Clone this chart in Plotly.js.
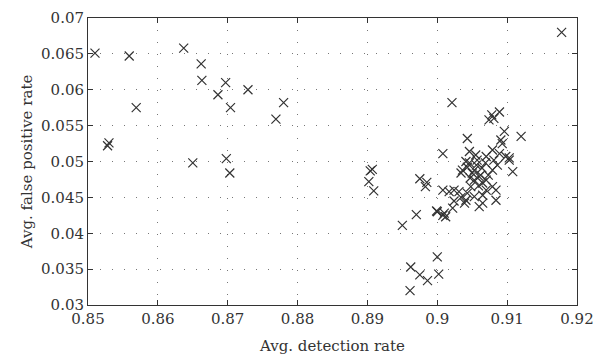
<!DOCTYPE html>
<html>
<head>
<meta charset="utf-8">
<script src="https://cdn.plot.ly/plotly-3.0.1.min.js"></script>
<style>html,body{margin:0;padding:0;background:#fff;}#chart{width:599px;height:362px;}</style>
</head>
<body>
<div id="chart"></div>
<script>
// Avg. detection rate (x) and Avg. false positive rate (y)
const detectionRate = [
  0.8510, 0.8559, 0.8530, 0.8528, 0.8569, 0.8637, 0.8662, 0.8663, 0.8650, 0.8686,
  0.8697, 0.8704, 0.8698, 0.8703, 0.8729, 0.8769, 0.8780,
  0.8907, 0.8904, 0.8902, 0.8909,
  0.8975, 0.8985, 0.8983, 0.8970, 0.8950, 0.8999, 0.9008,
  0.8962, 0.8975, 0.8986, 0.8961, 0.9000, 0.9002,
  0.9046, 0.9055, 0.9041, 0.9036, 0.9060, 0.9048, 0.9070, 0.9084, 0.9089, 0.9079,
  0.9093, 0.9103, 0.9008, 0.9017, 0.9024, 0.9065, 0.9053, 0.9034, 0.9060, 0.9084,
  0.9010, 0.9022, 0.9039, 0.9065, 0.9070, 0.9079, 0.9034, 0.9062, 0.9050, 0.9041,
  0.9053, 0.9079, 0.9031, 0.9046, 0.9070, 0.9043, 0.9096, 0.9091, 0.9120, 0.9098,
  0.9103, 0.9108, 0.9008, 0.9021, 0.9078, 0.9089, 0.9081, 0.9074, 0.9178,
  0.9043, 0.9056, 0.9064, 0.9053, 0.9047, 0.9059, 0.9043, 0.9073, 0.9086, 0.9081,
  0.9069, 0.9057, 0.9024, 0.9065, 0.9012, 0.9000
];
const falsePositiveRate = [
  0.0651, 0.0647, 0.0526, 0.0522, 0.0575, 0.0658, 0.0636, 0.0613, 0.0498, 0.0593,
  0.0610, 0.0575, 0.0504, 0.0484, 0.0600, 0.0559, 0.0582,
  0.0489, 0.0487, 0.0472, 0.0459,
  0.0476, 0.0471, 0.0465, 0.0426, 0.0411, 0.0431, 0.0425,
  0.0353, 0.0342, 0.0334, 0.0320, 0.0367, 0.0343,
  0.0514, 0.0509, 0.0500, 0.0488, 0.0479, 0.0465, 0.0474, 0.0460, 0.0511, 0.0516,
  0.0525, 0.0505, 0.0460, 0.0458, 0.0460, 0.0453, 0.0451, 0.0450, 0.0437, 0.0446,
  0.0428, 0.0435, 0.0442, 0.0470, 0.0460, 0.0465, 0.0484, 0.0481, 0.0484, 0.0446,
  0.0474, 0.0488, 0.0458, 0.0498, 0.0507, 0.0532, 0.0542, 0.0530, 0.0535, 0.0507,
  0.0502, 0.0486, 0.0511, 0.0582, 0.0565, 0.0569, 0.0560, 0.0558, 0.0680,
  0.0492, 0.0495, 0.0491, 0.0488, 0.0477, 0.0466, 0.0456, 0.0481, 0.0495, 0.0502,
  0.0498, 0.0502, 0.0445, 0.0442, 0.0423, 0.0430
];
const xTickVals = [0.85, 0.86, 0.87, 0.88, 0.89, 0.90, 0.91, 0.92];
const xTickText = ["0.85", "0.86", "0.87", "0.88", "0.89", "0.9", "0.91", "0.92"];
const yTickVals = [0.03, 0.035, 0.04, 0.045, 0.05, 0.055, 0.06, 0.065, 0.07];
const yTickText = ["0.03", "0.035", "0.04", "0.045", "0.05", "0.055", "0.06", "0.065", "0.07"];

const fontFamily = "DejaVu Serif, Liberation Serif, serif";
const axisCommon = {
  showline: true, mirror: "ticks", linecolor: "#333", linewidth: 1,
  ticks: "inside", ticklen: 5, tickcolor: "#333", tickwidth: 1,
  showgrid: true, gridcolor: "#777", griddash: "1px,11px", gridwidth: 1,
  zeroline: false, tickfont: {family: fontFamily, size: 15, color: "#333"}
};
const trace = {
  x: detectionRate, y: falsePositiveRate, type: "scatter", mode: "markers",
  marker: {symbol: "x-thin-open", size: 9, color: "#333", line: {color: "#333", width: 1.2}},
  hoverinfo: "none"
};
const layout = {
  width: 599, height: 362,
  margin: {l: 88, r: 22, t: 18, b: 57},
  paper_bgcolor: "#fff", plot_bgcolor: "#fff",
  showlegend: false,
  font: {family: fontFamily, color: "#333"},
  xaxis: Object.assign({}, axisCommon, {
    range: [0.85, 0.92], tickvals: xTickVals, ticktext: xTickText,
    title: {text: "Avg. detection rate", font: {family: fontFamily, size: 15, color: "#333"}, standoff: 13}
  }),
  yaxis: Object.assign({}, axisCommon, {
    range: [0.03, 0.07], tickvals: yTickVals, ticktext: yTickText,
    title: {text: "Avg. false positive rate", font: {family: fontFamily, size: 15, color: "#333"}, standoff: 4}
  })
};
Plotly.newPlot("chart", [trace], layout, {displayModeBar: false, staticPlot: true});
</script>
</body>
</html>
